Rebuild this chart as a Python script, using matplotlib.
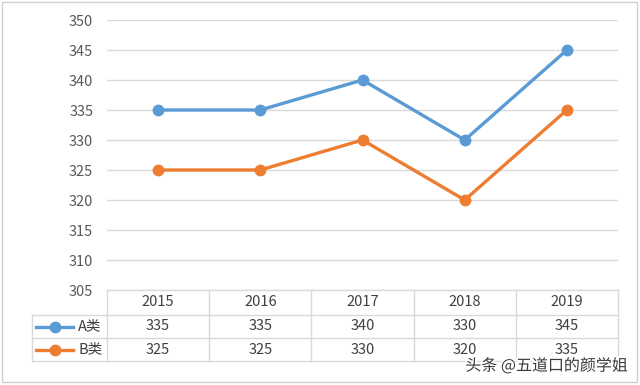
import matplotlib
matplotlib.use("Agg")
import matplotlib.pyplot as plt
from matplotlib.lines import Line2D
from matplotlib.patches import Rectangle
import matplotlib.patheffects as pe

plt.rcParams['font.family'] = ['Noto Sans CJK SC', 'DejaVu Sans']

years = ["2015", "2016", "2017", "2018", "2019"]
series_names = ["A类", "B类"]
a_vals = [335, 335, 340, 330, 345]
b_vals = [325, 325, 330, 320, 335]
colors = ["#5b9bd5", "#ed7d31"]
yticks = [305, 310, 315, 320, 325, 330, 335, 340, 345, 350]

W, H = 640, 385
fig = plt.figure(figsize=(W / 100, H / 100), dpi=100)

def fx(px):
    return px / W

def fy(py):
    return 1 - py / H

left, right, top, bottom = 107, 618, 20, 290
ax = fig.add_axes([fx(left), fy(bottom), fx(right) - fx(left), fy(top) - fy(bottom)])
x = list(range(len(years)))
for vals, c in zip([a_vals, b_vals], colors):
    ax.plot(x, vals, color=c, lw=2.4, marker='o', ms=7.5, zorder=3)
ax.set_xlim(-0.5, len(years) - 0.5)
ax.set_ylim(305, 350)
ax.set_yticks(yticks)
ax.grid(axis='y', color='#d9d9d9', lw=1)
ax.set_axisbelow(True)
for s in ax.spines.values():
    s.set_visible(False)
ax.tick_params(axis='y', length=0, pad=10, labelsize=10.5, labelcolor='#595959')
ax.tick_params(axis='x', bottom=False, labelbottom=False)

# data table
gc = '#d9d9d9'
rows = [290, 315, 338, 361]
colw = (right - left) / len(years)
def hline(y, x0, x1):
    fig.add_artist(Line2D([fx(x0), fx(x1)], [fy(y), fy(y)], color=gc, lw=1))
def vline(xp, y0, y1):
    fig.add_artist(Line2D([fx(xp), fx(xp)], [fy(y0), fy(y1)], color=gc, lw=1))

hline(rows[0], left, right)
for r in rows[1:]:
    hline(r, 32, right)
vline(32, rows[1], rows[3])
for i in range(len(years) + 1):
    vline(left + i * colw, rows[0], rows[3])

tc = '#404040'
for i, yr in enumerate(years):
    cx = left + (i + 0.5) * colw
    fig.text(fx(cx), fy((rows[0] + rows[1]) / 2), yr, ha='center', va='center', fontsize=10.5, color=tc)
for ri, (name, vals, c) in enumerate(zip(series_names, [a_vals, b_vals], colors)):
    cy = (rows[ri + 1] + rows[ri + 2]) / 2
    for i, v in enumerate(vals):
        cx = left + (i + 0.5) * colw
        fig.text(fx(cx), fy(cy), str(v), ha='center', va='center', fontsize=10.5, color=tc)
    fig.add_artist(Line2D([fx(36), fx(73)], [fy(cy), fy(cy)], color=c, lw=2.4))
    fig.add_artist(Line2D([fx(55)], [fy(cy)], color=c, marker='o', ms=7.5, lw=0))
    fig.text(fx(78), fy(cy), name, ha='left', va='center', fontsize=10.5, color=tc)

# outer border
fig.add_artist(Rectangle((fx(2), fy(382)), fx(635), fy(2) - fy(382), fill=False,
                         edgecolor='#d0d0d0', lw=1, transform=fig.transFigure))

# watermark
fig.text(fx(628), fy(366), "头条 @五道口的颜学姐", ha='right', va='center', fontsize=11.5,
         color='#3a3a3a', path_effects=[pe.withStroke(linewidth=2.5, foreground='white')])

fig.savefig("out.png", dpi=100)
